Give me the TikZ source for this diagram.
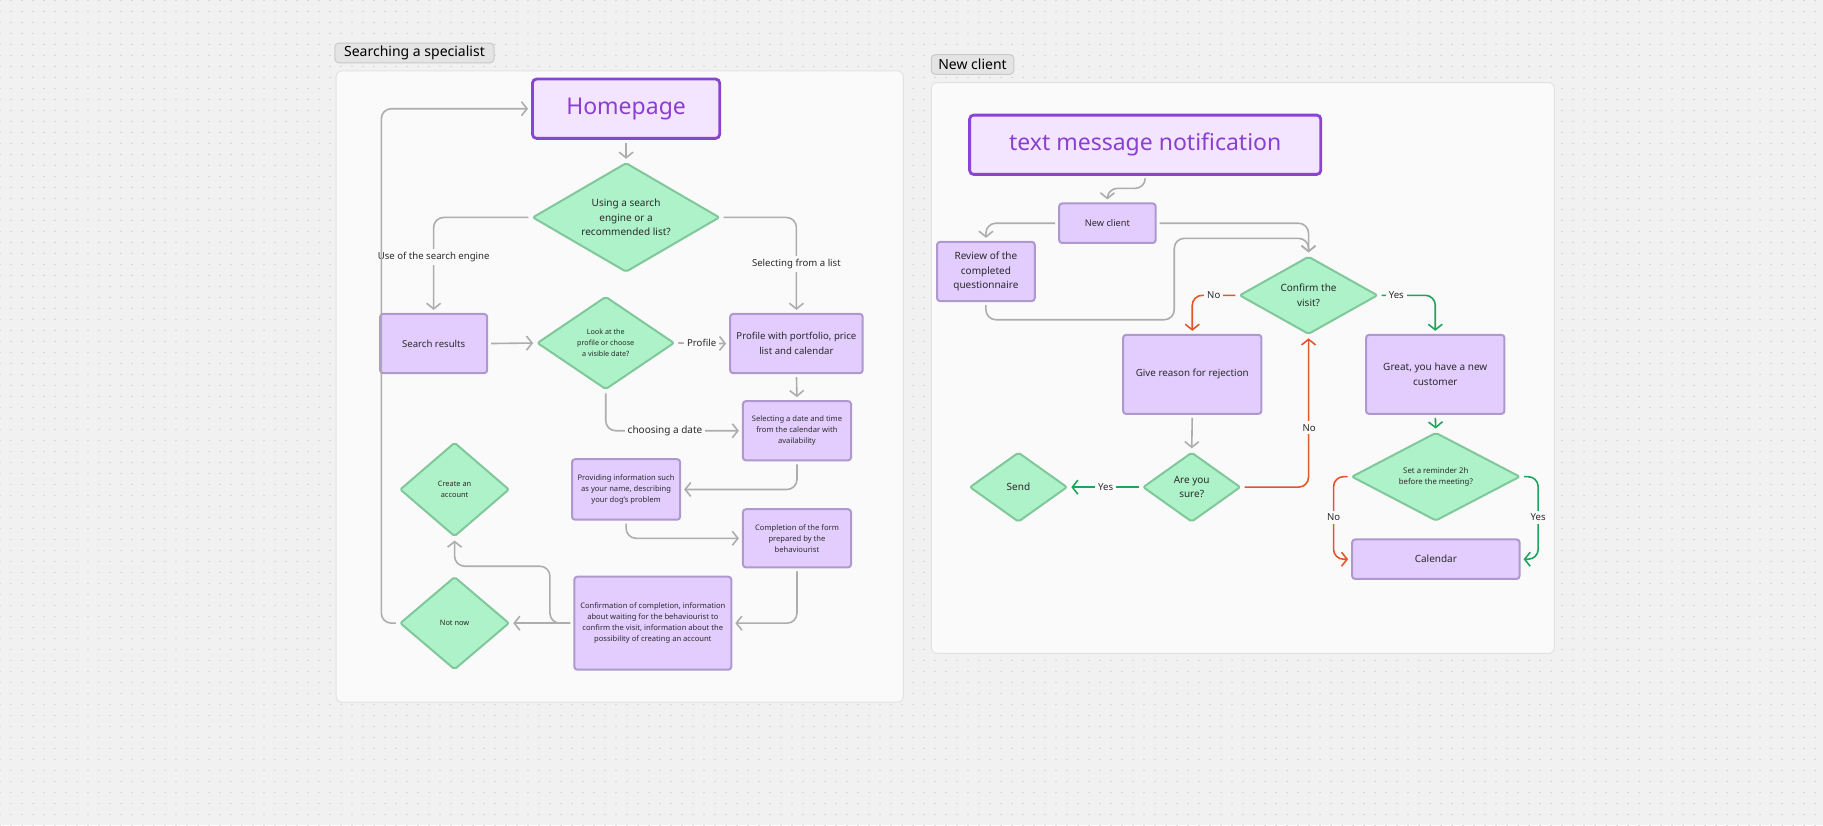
\documentclass[tikz,border=0pt]{standalone}
\usepackage{fontspec}
\setmainfont{Noto Sans}
\usetikzlibrary{shapes.geometric,arrows.meta,patterns.meta}
\definecolor{canvas}{HTML}{F1F1F1}
\definecolor{dotc}{HTML}{C4C4C4}
\definecolor{panelbg}{HTML}{FAFAFA}
\definecolor{panelline}{HTML}{E2E2E2}
\definecolor{tagfill}{HTML}{E4E4E4}
\definecolor{tagline}{HTML}{C9C9C9}
\definecolor{boxfill}{HTML}{E3CDFE}
\definecolor{boxdraw}{HTML}{AE99CF}
\definecolor{homefill}{HTML}{F3E4FF}
\definecolor{homedraw}{HTML}{8A44D0}
\definecolor{hometext}{HTML}{8A3FD0}
\definecolor{diafill}{HTML}{AEF2C9}
\definecolor{diadraw}{HTML}{80C79A}
\definecolor{lgray}{HTML}{ADADAD}
\definecolor{redc}{HTML}{E2562B}
\definecolor{greenc}{HTML}{1FA45E}
\definecolor{txt}{HTML}{2A2A2A}
\newcommand\fz[2]{\fontsize{#1}{#2}\selectfont}
\begin{document}
\begin{tikzpicture}[x=0.5813pt,y=-0.5813pt,
  box/.style 2 args={rectangle, rounded corners=1.5pt, draw=boxdraw, fill=boxfill, line width=1pt,
    minimum width={#1*0.5813pt}, minimum height={#2*0.5813pt}, inner sep=0pt, align=center, text=txt},
  homebox/.style 2 args={rectangle, rounded corners=2pt, draw=homedraw, fill=homefill, line width=1.4pt,
    minimum width={#1*0.5813pt}, minimum height={#2*0.5813pt}, inner sep=0pt, align=center, text=hometext,
    font=\fz{11.5}{14}},
  dia/.style 2 args={diamond, draw=diadraw, fill=diafill, line width=1pt, line join=round, rounded corners=1pt,
    minimum width={#1*0.5813pt}, minimum height={#2*0.5813pt}, inner sep=0pt},
  dl/.style={align=center, text=txt},
  elabel/.style={fill=panelbg, inner sep=1.5pt, text=txt, font=\fz{4.8}{6}},
  tag/.style 2 args={rectangle, rounded corners=2pt, draw=tagline, fill=tagfill, line width=0.5pt,
    minimum width={#1*0.5813pt}, minimum height={#2*0.5813pt}, inner sep=0pt, text=black, font=\fz{7}{8}},
  panel/.style={fill=panelbg, draw=panelline, line width=0.5pt, rounded corners=3pt},
  conn/.style={line width=0.8pt, rounded corners=5pt, shorten <=1.5pt, shorten >=1.5pt,
    -{Straight Barb[length=2.8pt,width=7pt]}},
  garr/.style={conn, draw=lgray},
  rarr/.style={conn, draw=redc},
  gnarr/.style={conn, draw=greenc},
]
\useasboundingbox (0,0) rectangle (1568,710);
\fill[canvas] (0,0) rectangle (1568,710);
\fill[pattern={Dots[radius=0.35pt,distance=5.5pt]}, pattern color=dotc] (0,0) rectangle (1568,710);

% panels
\draw[panel] (289,61) rectangle (777,604);
\draw[panel] (801,71) rectangle (1337,562);
\node[tag={137}{17}] (tag1) at (356.5,45.5) {Searching a specialist};
\node[tag={71}{17}] (tag2) at (836.5,55.5) {New client};

% ---------- Panel 1 ----------
\node[homebox={161}{51}] (home) at (538.5,93.5) {Homepage};
\node[dia={161}{94}, label={[dl, font=\fz{5}{7.3}]center:{Using a search\\engine or a\\recommended list?}}] (d1) at (538.5,187) {};
\node[box={92}{51}, font=\fz{4.8}{7.2}] (search) at (373,295.5) {Search results};
\node[dia={118}{80}, label={[dl, font=\fz{3.6}{5.5}]center:{Look at the\\profile or choose\\a visible date?}}] (d2) at (521,295) {};
\node[box={114}{51}, font=\fz{4.8}{7.2}] (profile) at (685,295.5) {Profile with portfolio, price\\list and calendar};
\node[box={93}{51}, font=\fz{3.8}{5.5}] (select) at (685.5,370.5) {Selecting a date and time\\from the calendar with\\availability};
\node[box={93}{52}, font=\fz{3.8}{5.5}] (provide) at (538.5,421) {Providing information such\\as your name, describing\\your dog's problem};
\node[box={93}{50}, font=\fz{3.8}{5.5}] (form) at (685.5,463) {Completion of the form\\prepared by the\\behaviourist};
\node[box={135}{80}, font=\fz{3.8}{5.5}] (confirm) at (561.5,536) {Confirmation of completion, information\\about waiting for the behaviourist to\\confirm the visit, information about the\\possibility of creating an account};
\node[dia={94}{81}, label={[dl, font=\fz{3.7}{5.5}]center:{Create an\\account}}] (create) at (391,421) {};
\node[dia={94}{80}, label={[dl, font=\fz{3.7}{5.5}]center:{Not now}}] (notnow) at (391,536) {};

\coordinate (j1) at (473,487);
\coordinate (lp) at (328,300);

\draw[garr] (home.south) -- (d1.north);
\draw[garr] (d1.west) -| (search.north);
\node[elabel] (l1) at (373,221) {Use of the search engine};
\draw[garr] (d1.east) -| (profile.north);
\node[elabel] (l2) at (685,227) {Selecting from a list};
\draw[garr] (search.east) -- (d2.west);
\draw[garr] (d2.east) -- (profile.west);
\node[elabel] (l3) at (603.5,295) {Profile};
\draw[garr] (profile.south) -- (select.north);
\draw[garr] (d2.south) |- (select.west);
\node[elabel, font=\fz{5}{6}] (l4) at (572,370.5) {choosing a date};
\draw[garr] (select.south) |- (provide.east);
\draw[garr] (provide.south) |- (form.west);
\draw[garr] (form.south) |- (confirm.east);
\draw[garr] (confirm.west) -- (notnow.east);
\draw[garr] (confirm.west) -| (j1) -| (create.south);
\draw[garr] (notnow.west) -| (lp |- home.west) -- (home.west);

% ---------- Panel 2 ----------
\node[homebox={302}{51}] (sms) at (985,124.5) {text message notification};
\node[box={83}{34}, font=\fz{4.6}{6}] (newc) at (952.5,192) {New client};
\node[box={84}{51}, font=\fz{5}{7.3}] (review) at (848,233.5) {Review of the\\completed\\questionnaire};
\node[dia={119}{67}, label={[dl, font=\fz{5}{7.3}]center:{Confirm the\\visit?}}] (confv) at (1125.5,254) {};
\node[box={119}{68}, font=\fz{4.9}{7.3}] (reason) at (1025.5,322) {Give reason for rejection};
\node[box={119}{68}, font=\fz{5}{7.3}] (great) at (1234.5,322) {Great, you have a new\\customer};
\node[dia={84}{60}, label={[dl, font=\fz{5}{7.3}]center:{Are you\\sure?}}] (sure) at (1025,419) {};
\node[dia={84}{60}, label={[dl, font=\fz{5}{7.3}]center:{Send}}] (send) at (876,419) {};
\node[dia={145}{76}, label={[dl, font=\fz{3.9}{5.5}]center:{Set a reminder 2h\\before the meeting?}}] (remind) at (1235,410) {};
\node[box={144}{34}, font=\fz{5}{6}] (cal) at (1235,481) {Calendar};

\coordinate (h162) at (0,162);
\coordinate (k1) at (1010,275);
\coordinate (k2) at (1080,205);
\coordinate (m1) at (1147,445);
\coordinate (m2) at (1323,445);

\draw[garr] (sms.south) -- (sms.south |- h162) -| (newc.north);
\draw[garr] (newc.west) -| (review.north);
\draw[garr] (newc.east) -| (confv.north);
\draw[garr] (review.south) |- (k1) |- (k2) -| (confv.north);
\draw[rarr] (confv.west) -| (reason.north);
\node[elabel] (n1) at (1044,254) {No};
\draw[gnarr] (confv.east) -| (great.north);
\node[elabel] (y1) at (1201,254) {Yes};
\draw[garr] (reason.south) -- (sure.north);
\draw[gnarr] (sure.west) -- (send.east);
\node[elabel] (y2) at (951,419) {Yes};
\draw[rarr] (sure.east) -| (confv.south);
\node[elabel] (n2) at (1126,368) {No};
\draw[gnarr] (great.south) -- (remind.north);
\draw[rarr] (remind.west) -| (m1) |- (cal.west);
\node[elabel] (n3) at (1147,445) {No};
\draw[gnarr] (remind.east) -| (m2) |- (cal.east);
\node[elabel] (y3) at (1323,445) {Yes};
\end{tikzpicture}
\end{document}
